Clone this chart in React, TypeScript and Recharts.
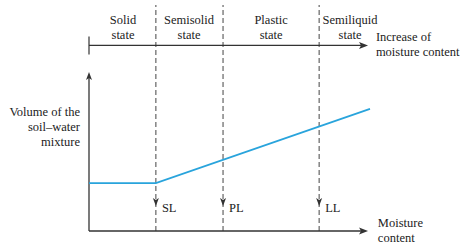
import React from "react";
import { ComposedChart, Line, XAxis, YAxis, ReferenceLine, ReferenceDot } from "recharts";

// moisture content (arbitrary units, 0..100) vs volume of the soil-water mixture
const moisture = [0, 23.8, 100];
const volume = [21.2, 21.2, 54];

const limitNames = ["SL", "PL", "LL"];
const limitValues = [23.8, 47.7, 81.9];

const stateNames = [
  ["Solid", "state"],
  ["Semisolid", "state"],
  ["Plastic", "state"],
  ["Semiliquid", "state"],
];
const stateCenters = [12.1, 35.6, 64.8, 92.9];

const yLabel = ["Volume of the", "soil\u2013water", "mixture"];
const xLabel = ["Moisture", "content"];
const topLabel = ["Increase of", "moisture content"];

const data = moisture.map((m, i) => ({ moisture: m, volume: volume[i] }));

const INK = "#333";
const BLUE = "#29a4dc";
const FONT = '"Liberation Serif", "Times New Roman", Times, serif';
const FS = 12.5;

function arrowRight(x: number, y: number) {
  return `${x},${y} ${x - 9},${y - 3.5} ${x - 7},${y} ${x - 9},${y + 3.5}`;
}
function arrowUp(x: number, y: number) {
  return `${x},${y} ${x - 3},${y + 8} ${x},${y + 6} ${x + 3},${y + 8}`;
}
function arrowDown(x: number, y: number) {
  return `${x},${y} ${x - 3},${y - 8} ${x},${y - 6} ${x + 3},${y - 8}`;
}

function MultiText({ x, y, lines, anchor }: { x: number; y: number; lines: string[]; anchor: "start" | "middle" | "end" }) {
  return (
    <text x={x} y={y} textAnchor={anchor} style={{ fontFamily: FONT, fontSize: FS }} fill="#222">
      {lines.map((l, i) => (
        <tspan key={i} x={x} dy={i === 0 ? 0 : 15}>
          {l}
        </tspan>
      ))}
    </text>
  );
}

export default function App() {
  return (
    <div style={{ position: "absolute", left: 0, top: 0, width: 474, height: 250, background: "#fff", fontFamily: FONT }}>
      <ComposedChart width={474} height={250} data={data} margin={{ top: 5, right: 104, bottom: 19, left: 89 }}>
        <XAxis dataKey="moisture" type="number" domain={[0, 100]} hide />
        <YAxis type="number" domain={[0, 100]} hide />

        {limitValues.map((v) => (
          <ReferenceLine key={v} x={v} stroke="#444" strokeWidth={1} strokeDasharray="5 3" />
        ))}

        {/* bottom axis */}
        <ReferenceLine
          segment={[{ x: 0, y: 0 }, { x: 99.3, y: 0 }]}
          shape={(p: any) => (
            <g>
              <line x1={p.x1} y1={p.y1} x2={p.x2 - 6} y2={p.y2} stroke={INK} strokeWidth={1.3} />
              <polygon points={arrowRight(p.x2, p.y2)} fill={INK} />
            </g>
          )}
        />
        {/* left axis */}
        <ReferenceLine
          segment={[{ x: 0, y: 0 }, { x: 0, y: 70.4 }]}
          shape={(p: any) => (
            <g>
              <line x1={p.x1} y1={p.y1} x2={p.x2} y2={p.y2 + 5} stroke={INK} strokeWidth={1.3} />
              <polygon points={arrowUp(p.x2, p.y2)} fill={INK} />
            </g>
          )}
        />
        {/* top moisture axis */}
        <ReferenceLine
          segment={[{ x: 0, y: 82.1 }, { x: 99.3, y: 82.1 }]}
          shape={(p: any) => (
            <g>
              <line x1={p.x1} y1={p.y1} x2={p.x2 - 6} y2={p.y2} stroke={INK} strokeWidth={1.3} />
              <line x1={p.x1} y1={p.y1 - 9} x2={p.x1} y2={p.y1 + 9} stroke={INK} strokeWidth={1.2} />
              <polygon points={arrowRight(p.x2, p.y2)} fill={INK} />
            </g>
          )}
        />

        <Line
          dataKey="volume"
          type="linear"
          stroke={BLUE}
          strokeWidth={1.8}
          dot={false}
          activeDot={false}
          isAnimationActive={false}
        />

        {limitValues.map((v, i) => (
          <ReferenceDot
            key={limitNames[i]}
            x={v}
            y={11.1}
            ifOverflow="visible"
            shape={(p: any) => (
              <g>
                <polygon points={arrowDown(p.cx, p.cy)} fill={INK} />
                <text x={p.cx + 6} y={p.cy + 6} style={{ fontFamily: FONT, fontSize: FS }} fill="#222">
                  {limitNames[i]}
                </text>
              </g>
            )}
          />
        ))}

        {stateCenters.map((c, i) => (
          <ReferenceDot
            key={stateNames[i][0]}
            x={c}
            y={91.6}
            ifOverflow="visible"
            shape={(p: any) => <MultiText x={p.cx} y={p.cy} lines={stateNames[i]} anchor="middle" />}
          />
        ))}

        <ReferenceDot
          x={-3.2}
          y={50.9}
          ifOverflow="visible"
          shape={(p: any) => <MultiText x={p.cx} y={p.cy} lines={yLabel} anchor="end" />}
        />
        <ReferenceDot
          x={102.8}
          y={1.8}
          ifOverflow="visible"
          shape={(p: any) => <MultiText x={p.cx} y={p.cy} lines={xLabel} anchor="start" />}
        />
        <ReferenceDot
          x={102.1}
          y={84.1}
          ifOverflow="visible"
          shape={(p: any) => <MultiText x={p.cx} y={p.cy} lines={topLabel} anchor="start" />}
        />
      </ComposedChart>
    </div>
  );
}
